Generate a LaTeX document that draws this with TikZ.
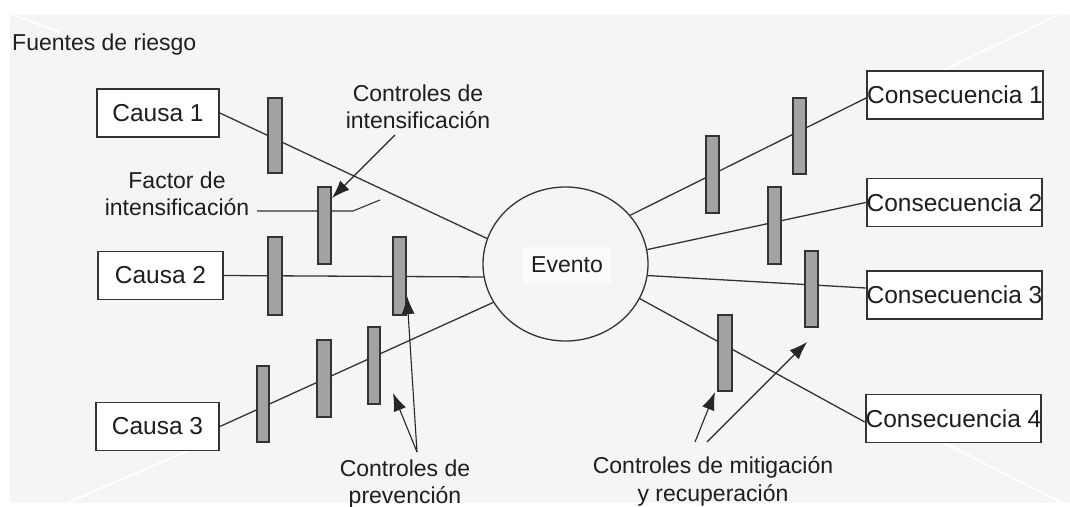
\documentclass[tikz,border=0pt]{standalone}
\usepackage{fontspec}
\setmainfont{Liberation Sans}
\usetikzlibrary{arrows.meta,calc,shapes.geometric}
\definecolor{bg}{HTML}{F5F5F5}
\definecolor{edge}{HTML}{333333}
\definecolor{txt}{HTML}{1E1E1E}
\definecolor{barfill}{HTML}{A2A2A2}
\begin{document}
\begin{tikzpicture}[x=1pt,y=-1pt,
  every node/.style={text=txt,font=\fontsize{23}{27.5}\selectfont},
  box/.style={draw=edge,line width=1.8pt,fill=white,minimum height=48pt,inner sep=0pt,font=\fontsize{24.5}{29}\selectfont},
  barrier/.style={draw=edge,fill=barfill,line width=1.2pt,minimum width=13pt,minimum height=77pt,inner sep=0pt},
  conn/.style={draw=edge,line width=1.3pt},
  arr/.style={draw=black!85,line width=1.1pt,-{Latex[length=18pt,width=13pt]}},
  lbl/.style={align=center,inner sep=0pt},
  wm/.style={draw=white,line width=2pt}]
\useasboundingbox (0,0) rectangle (1070,506);
\fill[white] (0,0) rectangle (1070,506);
\fill[bg] (10,15) rectangle (1070,503);
% faint watermark lines
\draw[wm] (15,16) -- (60,32);
\draw[wm] (940,72) -- (1058,15);
\draw[wm] (925,433) -- (1066,505);
\draw[wm] (62,505) -- (200,446);

% title
\node[anchor=west,inner sep=0pt] (fr) at (12,45) {Fuentes de riesgo};

% causes and consequences
\node[box,minimum width=122pt] (c1) at (158,113) {Causa 1};
\node[box,minimum width=125pt] (c2) at (160.5,275.5) {Causa 2};
\node[box,minimum width=123pt] (c3) at (157.5,426.5) {Causa 3};
\node[box,minimum width=176pt] (q1) at (955,95) {Consecuencia 1};
\node[box,minimum width=175pt] (q2) at (954.5,202.5) {Consecuencia 2};
\node[box,minimum width=175pt] (q3) at (954.5,295) {Consecuencia 3};
\node[box,minimum width=173pt] (q4) at (953.5,418.5) {Consecuencia 4};

% event
\node[draw=edge,line width=1.3pt,ellipse,fill=bg,minimum width=165pt,minimum height=154pt,inner sep=0pt] (ev) at (565.5,264) {};
\node[fill=white!60!bg,inner xsep=8pt,inner ysep=10pt] (evt) at (567,265) {Evento};

% connectors
\draw[conn] (c1.east) -- (ev.162);
\draw[conn] (c2.east) -- (ev.189);
\draw[conn] (c3.east) -- (ev.208);
\draw[conn] (ev.37) -- ($(q1.west)+(0,3)$);
\draw[conn] (ev.10) -- (q2.west);
\draw[conn] (ev.-8) -- ($(q3.west)+(0,-7)$);
\draw[conn] (ev.-25) -- ($(q4.west)+(0,3.5)$);

% factor de intensificacion
\node[lbl] (lfi) at (177,194) {Factor de\\intensificación};
\coordinate (fs) at (257,211);
\coordinate (fk) at (353,211);
\coordinate (fe) at (380,200);
\draw[conn,line width=1.1pt] (fs) -- (fk) -- (fe);

% barriers
\node[barrier,minimum width=14pt,minimum height=75pt] (b1) at (275,135.5) {};
\node[barrier] (b2) at (324.5,225.5) {};
\node[barrier,minimum width=14pt,minimum height=78pt] (b3) at (275,276) {};
\node[barrier,minimum height=78pt] (b4) at (399.5,276) {};
\node[barrier,minimum width=12pt,minimum height=76pt] (b5) at (263,404) {};
\node[barrier,minimum width=14pt] (b6) at (324,378.5) {};
\node[barrier,minimum width=12pt] (b7) at (374,365.5) {};
\node[barrier] (b8) at (712.5,174.5) {};
\node[barrier,minimum height=76pt] (b9) at (799.5,136) {};
\node[barrier] (b10) at (774.5,225.5) {};
\node[barrier,minimum height=76pt] (b11) at (811.5,289) {};
\node[barrier,minimum width=14pt,minimum height=76pt] (b12) at (725,353) {};

% labels
\node[lbl] (lci) at (418,107) {Controles de\\intensificación};
\node[lbl] (lcp) at (405,484) {Controles de\\prevención};
\node[lbl] (lcm) at (713,481.5) {Controles de mitigación\\y recuperación};

% arrows
\coordinate (ai) at (395,135);
\coordinate (ti) at (332,198);
\draw[arr] (ai) -- (ti);
\coordinate (ap) at (417,452);
\coordinate (tp1) at (407,296);
\coordinate (tp2) at (393,393);
\draw[arr] (ap) -- (tp1);
\draw[arr] (ap) -- (tp2);
\coordinate (am1) at (695,442);
\coordinate (am2) at (707,442);
\coordinate (tm1) at (715,392);
\coordinate (tm2) at (807,342);
\draw[arr] (am1) -- (tm1);
\draw[arr] (am2) -- (tm2);
\end{tikzpicture}
\end{document}
